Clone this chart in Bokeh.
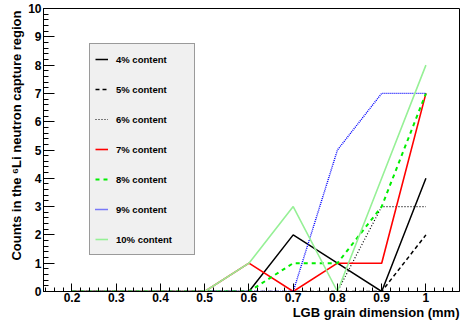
from bokeh.plotting import figure
from bokeh.models import (FixedTicker, CustomJSTickFormatter, Legend,
                          LegendItem, Range1d, Title)
from bokeh.embed import file_html
from bokeh.resources import INLINE
import numpy as np

# ---- data ----
grain = [0.2, 0.3, 0.4, 0.5, 0.6, 0.7, 0.8, 0.9, 1.0]
c4 = [0, 0, 0, 0, 0, 2, 1, 0, 4]
c5 = [0, 0, 0, 0, 0, 0, 0, 0, 2]
c6 = [0, 0, 0, 0, 0, 0, 0, 3, 3]
c7 = [0, 0, 0, 0, 1, 0, 1, 1, 7]
c8 = [0, 0, 0, 0, 0, 1, 1, 3, 7]
c9 = [0, 0, 0, 0, 0, 0, 5, 7, 7]
c10 = [0, 0, 0, 0, 1, 3, 0, 4, 8]
labels = ["4% content", "5% content", "6% content", "7% content",
          "8% content", "9% content", "10% content"]
x_ticks = [0.2, 0.3, 0.4, 0.5, 0.6, 0.7, 0.8, 0.9, 1.0]
y_ticks = [0, 1, 2, 3, 4, 5, 6, 7, 8, 9, 10]
x_title = "LGB grain dimension (mm)"
y_title = "Counts in the \u2076Li neutron capture region"

FONT = "Liberation Sans"
X0, X1 = 0.1356, 1.0759

p = figure(width=463, height=323, output_backend="svg", toolbar_location=None,
           x_range=Range1d(X0, X1), y_range=Range1d(0, 10),
           min_border_left=43, min_border_right=4, min_border_top=8,
           min_border_bottom=32)
p.grid.visible = False
p.outline_line_color = "black"
p.outline_line_width = 1
p.background_fill_color = "white"
p.border_fill_color = "white"

styles = [
    (c4, "black", "solid", 1.5),
    (c5, "black", "4 3", 1.5),
    (c6, "black", "1 2", 1.2),
    (c7, "#ff0000", "solid", 1.6),
    (c8, "#00ee00", "4 4", 2.0),
    (c9, "#0000ff", "1 1", 1.4),
    (c10, "#96f096", "solid", 1.6),
]
items = []
for (vals, col, dash, lw), lab in zip(styles, labels):
    r = p.line(grain, vals, line_color=col, line_dash=dash, line_width=lw)
    items.append(LegendItem(label=lab, renderers=[r]))

leg = Legend(items=items, location=(46, 36), orientation="vertical",
             label_text_font=FONT, label_text_font_style="bold",
             label_text_font_size="9.5px", label_text_color="black",
             glyph_width=13, glyph_height=20, label_height=20,
             label_width=73, label_standoff=8, spacing=10, padding=5,
             margin=0,
             background_fill_color="#f0f0f0", background_fill_alpha=1.0,
             border_line_color="#444444", border_line_width=1)
p.add_layout(leg, "center")

# axes
minor_x = [round(v, 2) for v in np.arange(0.14, 1.08, 0.02)]
minor_y = [round(v, 1) for v in np.arange(0, 10.01, 0.2)]
p.xaxis.ticker = FixedTicker(ticks=x_ticks, minor_ticks=minor_x)
p.yaxis.ticker = FixedTicker(ticks=y_ticks, minor_ticks=minor_y)
p.xaxis.formatter = CustomJSTickFormatter(code="return String(Math.round(tick*10)/10);")
p.yaxis.formatter = CustomJSTickFormatter(code="return String(Math.round(tick));")

for ax in (p.xaxis, p.yaxis):
    ax.axis_line_color = "black"
    ax.major_tick_line_color = "black"
    ax.minor_tick_line_color = "black"
    ax.major_tick_out = 0
    ax.minor_tick_out = 0
    ax.major_label_text_font = FONT
    ax.major_label_text_font_style = "bold"
    ax.major_label_text_font_size = "12px"
    ax.major_label_text_color = "black"
p.xaxis.major_tick_in = 8
p.xaxis.minor_tick_in = 4
p.yaxis.major_tick_in = 11
p.yaxis.minor_tick_in = 5
p.xaxis.major_label_standoff = 1
p.yaxis.major_label_standoff = 2

# axis titles as side-panel titles (right / top aligned like ROOT)
xt = Title(text=x_title, align="right", vertical_align="top",
           standoff=0, offset=0, text_font=FONT,
           text_font_style="bold", text_font_size="13px", text_color="black")
yt = Title(text=y_title, align="right", vertical_align="top",
           standoff=0, offset=2, text_font=FONT,
           text_font_style="bold", text_font_size="13px", text_color="black")
p.add_layout(xt, "below")
p.add_layout(yt, "left")

open("out.html", "w").write(file_html(p, INLINE))
